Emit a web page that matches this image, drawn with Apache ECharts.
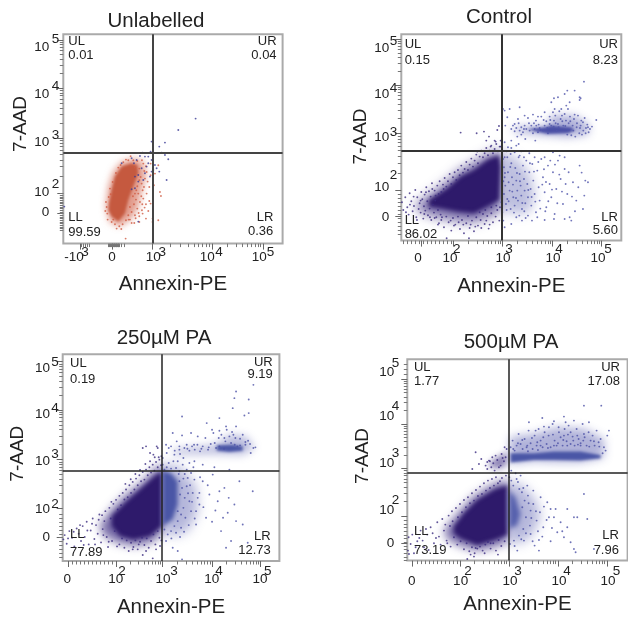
<!DOCTYPE html>
<html><head><meta charset="utf-8">
<style>html,body{margin:0;padding:0;background:#fff}#c{width:628px;height:619px}</style>
<script src="https://cdn.jsdelivr.net/npm/echarts@6/dist/echarts.min.js"></script>
</head><body><div id="c"></div>
<script>
// Values are display channels of each plot's biexponential scale.
const panelTitles=['Unlabelled','Control','250µM PA','500µM PA'];
const quadrantNames=['UL','UR','LL','LR'];
const unlabelledPct=['0.01','0.04','99.59','0.36'];
const controlPct=['0.15','8.23','86.02','5.60'];
const pa250Pct=['0.19','9.19','77.89','12.73'];
const pa500Pct=['1.77','17.08','73.19','7.96'];

// dense population outlines
const unlabelledCore=[[137,121],[145,161],[155,201],[175,231],[205,241],[222,236],[225,211],[210,171],[195,131],[185,91],[165,66],[145,81],[135,101]];
const unlabelledHalo=[[128,110],[135,170],[150,215],[175,245],[215,255],[240,245],[248,205],[235,160],[225,110],[205,75],[170,52],[140,65]];
const controlCore=[[83,122],[138,157],[178,192],[218,212],[258,242],[293,257],[298,222],[294,122],[258,102],[218,82],[168,87],[118,97],[83,102]];
const controlHalo=[[40,105],[90,140],[135,175],[175,210],[220,235],[260,260],[296,275],[300,90],[260,70],[215,55],[165,60],[110,70],[60,85]];
const controlLowHalo=[[304,262],[345,250],[385,200],[400,140],[385,85],[340,80],[304,95]];
const controlUpHalo=[[335,340],[440,345],[450,375],[520,375],[565,345],[560,318],[500,310],[400,318],[340,325]];
const controlBand=[[378,335],[430,340],[450,345],[510,340],[520,330],[500,322],[440,320],[400,328]];
const pa250Core=[[147,135],[192,180],[232,215],[282,260],[297,270],[297,105],[262,75],[212,65],[172,75],[147,105]];
const pa250Halo=[[110,105],[150,160],[190,200],[235,235],[285,285],[298,290],[300,85],[265,55],[215,45],[165,55],[125,75]];
const pa250LowHalo=[[299,290],[350,285],[400,225],[405,150],[375,90],[330,75],[299,90]];
const pa250UpHalo=[[330,335],[460,350],[500,380],[550,375],[575,340],[540,320],[450,322],[335,320]];
const pa250Strip=[[299,272],[325,265],[345,240],[345,170],[330,125],[299,105]];
const pa250Band=[[462,348],[510,350],[540,345],[540,332],[500,328],[462,332]];
const pa500Core=[[140,102],[170,142],[210,182],[260,212],[300,227],[300,77],[260,62],[210,47],[160,67],[140,82]];
const pa500Halo=[[110,90],[150,140],[195,190],[250,225],[298,245],[300,55],[260,40],[210,30],[155,45],[120,65]];
const pa500LowHalo=[[303,240],[345,225],[385,180],[400,130],[370,70],[330,50],[303,60]];
const pa500UpHalo=[[308,370],[380,380],[450,400],[530,395],[590,365],[590,310],[520,295],[440,295],[380,298],[308,290]];
const pa500Cluster=[[240,285],[262,305],[298,325],[298,285],[270,275]];
const pa500Strip=[[305,212],[325,190],[340,140],[330,105],[305,95]];
const pa500Band=[[310,322],[380,322],[440,327],[520,327],[580,317],[580,307],[520,300],[440,302],[380,302],[310,294]];

// individual events
const unlabelledRed=[[200,110],[212,118],[205,95],[222,105],[215,85],[230,125],[236,100],[228,82],[244,108],[240,135],[225,150],[238,160],[215,150],[250,150],[222,172],[235,180],[245,195],[232,200],[250,215],[262,205],[228,225],[240,240],[210,250],[195,250],[180,244],[222,248],[236,250],[248,232],[200,72],[188,70],[178,58],[168,52],[155,58],[145,65],[133,72],[132,90],[130,110],[128,125],[136,140],[140,165],[148,185],[158,212],[165,228],[248,118],[258,128],[268,75],[285,70],[268,65],[160,45],[187,15],[262,120],[290,155],[293,143],[258,170],[272,175],[275,210],[285,235],[262,240],[248,75],[228,65],[205,62],[195,85],[213,62],[218,132],[209,142],[226,92],[237,118],[242,170],[253,186],[228,190],[219,160],[196,72],[174,44],[150,72],[126,98],[142,148],[172,236],[188,252],[202,262],[214,228],[243,218],[234,142],[255,98],[217,76],[238,90]];
const unlabelledBlue=[[3,111],[205,256],[175,241],[238,273],[230,263],[262,276],[265,306],[288,291],[305,303],[295,273],[305,266],[315,253],[345,341],[397,375],[310,191],[288,216],[275,236],[265,216],[280,226],[255,241],[245,211],[250,231],[235,226],[225,206],[215,201],[240,191],[225,186],[215,166],[205,163],[225,66],[265,251],[255,261],[245,261],[220,251],[270,221],[260,201],[212,241]];
const controlDark=[[2,115],[6,92],[12,130],[18,100],[22,78],[25,142],[30,118],[34,88],[38,104],[42,152],[45,70],[48,130],[52,95],[55,112],[58,84],[60,146],[63,124],[66,66],[68,103],[70,138],[72,90],[75,160],[78,118],[80,76],[83,148],[85,96],[88,132],[90,62],[92,172],[95,108],[98,84],[100,150],[103,135],[105,70],[108,165],[110,92],[113,52],[115,178],[118,78],[120,146],[125,168],[130,188],[135,162],[140,178],[145,200],[150,170],[155,190],[160,205],[165,182],[170,212],[175,196],[180,225],[185,204],[190,215],[195,236],[200,212],[205,228],[210,246],[215,222],[220,240],[225,258],[230,232],[235,252],[240,270],[245,250],[250,262],[255,278],[260,256],[265,270],[270,285],[275,262],[280,275],[285,290],[290,268],[295,282],[298,300],[255,300],[280,300],[178,324],[226,322],[248,327],[263,312],[288,332],[293,344],[228,267],[268,282],[283,297],[298,282],[100,68],[110,48],[120,62],[128,40],[135,72],[142,55],[150,30],[155,68],[162,48],[170,72],[176,35],[182,62],[188,22],[195,52],[200,74],[205,38],[212,60],[218,28],[225,70],[230,45],[238,62],[245,80],[250,50],[258,74],[262,36],[270,82],[275,55],[283,72],[288,92],[294,60],[296,100],[285,105],[270,100],[252,92],[235,85],[136,7],[203,7],[14,85],[26,108],[37,132],[47,62],[58,120],[69,80],[74,145],[86,70],[93,155],[102,120],[112,140],[122,70],[127,155],[148,60],[158,45],[172,55],[186,48],[208,48],[222,42],[240,38],[255,60],[265,48]];
const controlBlue=[[305,245],[308,220],[310,190],[312,165],[308,140],[314,110],[318,250],[320,205],[322,175],[325,150],[318,125],[328,95],[330,232],[332,190],[335,168],[336,130],[340,105],[342,218],[345,180],[348,150],[350,120],[352,250],[355,200],[358,165],[360,135],[362,95],[365,225],[368,185],[370,150],[372,112],[375,240],[378,170],[380,130],[384,205],[388,155],[390,105],[393,230],[396,180],[400,140],[404,85],[408,210],[412,160],[415,120],[420,245],[425,190],[430,145],[435,100],[440,225],[445,170],[450,130],[455,205],[460,80],[465,155],[470,240],[478,185],[485,110],[490,215],[498,140],[505,70],[510,60],[515,175],[525,120],[535,225],[545,95],[560,175],[552,180],[490,65],[458,65],[400,250],[430,250],[455,265],[475,255],[490,250],[300,115],[303,85],[306,60],[310,250],[328,260],[340,265],[360,268],[345,285],[320,280],[310,295],[330,300],[355,255],[430,62],[392,60],[380,75],[362,60],[345,70],[330,50],[310,40],[330,335],[335,345],[340,328],[345,338],[350,365],[355,330],[360,340],[365,325],[370,345],[375,335],[380,368],[385,330],[390,345],[395,322],[400,335],[405,345],[410,325],[415,338],[420,372],[425,330],[430,345],[435,358],[440,322],[445,372],[450,345],[455,385],[458,360],[462,375],[466,330],[470,350],[474,388],[478,365],[482,375],[486,345],[490,380],[494,360],[498,318],[502,352],[506,372],[510,316],[514,345],[518,365],[522,312],[526,340],[530,375],[534,322],[538,345],[542,318],[546,330],[550,368],[554,338],[558,348],[562,325],[566,335],[585,362],[305,395],[310,390],[318,370],[325,395],[355,400],[370,375],[395,378],[410,372],[430,385],[450,415],[460,395],[470,430],[490,440],[495,405],[500,395],[520,450],[535,430],[548,477],[535,422],[505,415],[498,450],[458,427],[538,427],[311,203],[306,178],[327,221],[333,147],[347,203],[344,128],[356,178],[363,113],[371,207],[369,88],[381,152],[386,232],[391,131],[398,207],[402,117],[411,236],[417,96],[423,168],[428,214],[434,176],[441,118],[447,240],[452,153],[461,228],[468,112],[474,198],[482,147],[493,170],[502,205],[512,132],[521,88],[531,160],[541,204],[549,135],[322,118],[338,84],[316,92],[354,75],[373,68],[408,70],[432,88],[330,278],[352,290],[316,268],[368,250],[384,262],[402,300],[372,305],[348,312],[352,352],[368,335],[383,352],[404,360],[412,348],[427,362],[438,338],[447,362],[457,342],[463,352],[472,340],[483,358],[492,344],[501,332],[507,358],[516,330],[527,352],[536,338],[545,355],[553,322],[560,340],[572,342],[540,360],[520,378],[480,395],[445,350],[418,332],[398,352],[360,318],[340,350],[312,345]];
const pa250Dark=[[2,65],[6,78],[12,52],[20,90],[28,70],[35,44],[42,98],[48,82],[55,60],[60,105],[66,72],[72,118],[78,50],[84,92],[90,128],[95,66],[100,108],[105,82],[110,140],[115,56],[120,96],[125,120],[128,150],[132,72],[136,42],[140,160],[144,128],[148,60],[152,172],[156,90],[160,184],[165,155],[170,196],[175,168],[180,205],[185,185],[190,215],[195,192],[200,228],[205,205],[210,238],[215,215],[220,248],[225,228],[230,258],[235,240],[240,268],[245,245],[250,275],[255,258],[260,282],[265,266],[270,290],[275,272],[280,298],[285,282],[290,305],[295,288],[296,315],[288,312],[240,340],[250,345],[262,325],[272,320],[285,340],[282,345],[170,50],[178,68],[185,40],[192,62],[198,30],[205,55],[212,42],[218,62],[225,35],[232,58],[238,70],[245,48],[252,68],[258,40],[265,60],[272,80],[278,50],[285,90],[290,70],[296,62],[280,35],[240,18],[270,8],[16,68],[33,88],[52,108],[63,48],[74,92],[88,112],[97,50],[108,124],[118,138],[122,78],[138,58],[146,178],[163,44],[188,232],[204,246],[218,262],[232,274],[248,292],[262,300],[276,312],[210,35],[228,50],[250,30],[292,45]];
const pa250Blue=[[300,290],[305,275],[312,282],[318,295],[325,278],[332,300],[340,280],[350,270],[360,290],[372,275],[385,265],[395,245],[350,240],[358,220],[366,190],[352,200],[362,160],[372,225],[380,180],[390,205],[400,150],[355,140],[345,120],[335,105],[325,90],[315,80],[305,95],[345,150],[368,130],[378,108],[355,100],[340,85],[400,110],[410,170],[420,240],[430,130],[440,200],[450,260],[465,180],[475,90],[485,220],[495,145],[505,60],[515,170],[530,240],[540,110],[555,55],[570,210],[490,40],[405,190],[385,150],[375,250],[310,60],[330,40],[345,30],[358,5],[300,310],[312,325],[325,345],[335,320],[350,335],[362,310],[380,295],[395,300],[345,300],[310,350],[318,340],[330,385],[342,360],[350,345],[358,378],[365,340],[372,350],[380,332],[388,345],[396,335],[404,350],[412,330],[420,345],[428,370],[436,335],[444,352],[452,385],[460,340],[468,370],[476,380],[484,338],[492,395],[500,375],[508,388],[516,350],[524,345],[532,368],[540,380],[548,350],[556,362],[564,325],[572,340],[578,342],[385,385],[405,375],[432,415],[448,395],[470,430],[358,435],[485,370],[520,405],[545,438],[558,445],[520,510],[515,490],[558,486],[572,530],[510,460],[348,262],[362,248],[376,204],[388,178],[396,128],[364,88],[352,72],[326,68],[382,228],[410,205],[422,162],[435,228],[448,118],[458,152],[470,210],[481,130],[498,190],[520,120],[412,252],[392,282],[366,262],[336,332],[352,322],[374,338],[394,350],[416,338],[438,342],[456,355],[470,345],[488,360],[505,355],[518,370],[532,348],[548,358],[562,352],[470,392],[490,405],[512,380],[420,290],[455,282],[500,275]];
const pa500Dark=[[2,30],[4,70],[10,50],[20,22],[30,58],[40,90],[50,40],[60,78],[70,100],[80,52],[90,115],[95,72],[105,125],[110,90],[118,60],[124,135],[128,104],[134,148],[140,70],[146,158],[152,130],[158,170],[164,145],[170,182],[176,160],[182,190],[188,172],[194,202],[200,180],[206,212],[212,194],[218,222],[224,200],[230,232],[236,210],[242,240],[248,218],[254,245],[260,225],[266,250],[272,232],[278,238],[284,248],[296,255],[120,52],[130,42],[150,48],[160,58],[170,34],[178,52],[186,28],[194,40],[202,22],[210,36],[218,42],[226,30],[234,48],[242,56],[250,36],[258,52],[266,30],[274,62],[282,44],[292,58],[180,5],[200,12],[215,290],[235,285],[248,298],[258,292],[270,302],[280,285],[290,298],[295,310],[265,315],[283,320],[298,335],[240,275],[222,305],[195,275],[205,325],[262,270],[275,280],[245,300],[255,310],[5,20],[15,78],[25,40],[36,68],[46,60],[56,95],[64,32],[76,82],[86,68],[100,48],[114,108],[136,118],[190,18],[205,38],[232,22],[250,52],[272,18],[240,296],[252,280],[286,308],[292,340]];
const pa500Blue=[[306,250],[312,240],[318,225],[328,245],[336,215],[344,205],[352,180],[362,195],[370,150],[378,170],[388,120],[398,145],[408,100],[420,175],[430,155],[440,130],[450,85],[460,115],[470,70],[480,100],[490,55],[500,35],[345,160],[356,130],[368,105],[348,95],[335,75],[320,60],[308,50],[350,60],[370,80],[382,45],[395,30],[330,30],[312,270],[325,262],[340,255],[360,225],[378,210],[400,190],[425,130],[480,155],[500,130],[510,130],[530,200],[540,125],[560,35],[505,25],[310,340],[316,360],[322,330],[328,345],[334,380],[340,350],[346,335],[352,365],[358,340],[364,390],[370,352],[376,335],[382,375],[388,345],[394,395],[400,360],[406,340],[412,385],[418,350],[424,375],[430,340],[436,410],[442,360],[448,345],[454,400],[460,370],[466,345],[472,395],[478,358],[484,405],[490,350],[496,372],[502,345],[508,395],[514,365],[520,352],[526,410],[532,370],[538,345],[544,385],[550,360],[556,375],[562,345],[568,390],[574,355],[580,365],[590,340],[600,375],[605,390],[595,330],[530,380],[545,415],[520,345],[480,345],[440,345],[400,345],[360,345],[365,415],[405,428],[530,465],[582,465],[455,385],[475,415],[390,355],[425,400],[470,375],[490,385],[510,375],[332,236],[348,218],[364,172],[386,148],[392,88],[372,128],[356,82],[342,64],[322,44],[376,58],[410,162],[418,122],[434,98],[445,155],[405,72],[395,62],[430,58],[465,88],[318,335],[332,352],[345,362],[362,328],[374,368],[392,332],[408,370],[422,338],[437,378],[452,352],[468,362],[482,378],[498,360],[512,348],[528,360],[546,342],[560,358],[576,342],[586,322],[500,420],[470,432],[440,418],[410,402],[385,390]];

const minors=(a,b)=>[2,3,4,5,6,7,8,9].map(k=>a+(b-a)*Math.log10(k));
const run=(a,b,s)=>{const o=[];for(let v=a;v<=b;v+=s)o.push(v);return o;};

const panels=[
 {box:[63.3,34.3,219.3,209.3],range:[658,628],qx:268,qy:273,lineW:2,lineC:'#444',title:[156,22],name:[42,42,15],pct:unlabelledPct,
  pos:[[15,606,566,'left'],[640,606,566,'right'],[15,79,33,'left'],[630,79,36,'right']],
  xMaj:[50,146,266,446,599],yMaj:[611,467,317,152,92],
  xMin:[...minors(266,446),...minors(446,599),...minors(146,50).slice(3),...minors(266,146).slice(3),...run(135,170,3)],
  yMin:[...minors(152,317),...minors(317,467),...minors(467,611),...run(40,150,5)],
  xL:[[32,'-10'],[146,'0'],[270,'10'],[432,'10'],[588,'10']],xE:[[65,'3'],[297,'3'],[467,'4'],[622,'5']],
  yL:[[93,'0'],[153,'10'],[303,'10'],[447,'10'],[588,'10']],yE:[[177,'2'],[324,'3'],[471,'4'],[612,'5']],
  lm:[6.5,1.7,14,4],
  halo:[[unlabelledHalo,'rgba(207,91,66,.6)',7]],core:[[unlabelledCore,'#c5593f',3]],dots:[[unlabelledRed,'#cf5b42'],[unlabelledBlue,'#3a3a95']]},
 {box:[401.3,34.3,220,206.3],range:[660,619],qx:302,qy:270,lineW:2,lineC:'#333',title:[499,18],name:[47,40,1],pct:controlPct,
  pos:[[10,589,540,'left'],[650,589,540,'right'],[10,60,20,'left'],[650,70,32,'right']],
  xMaj:[61,156,304,454,601],yMaj:[604,467,322,152,72],
  xMin:[...minors(156,304),...minors(304,454),...minors(454,601),...run(5,150,12)],
  yMin:[...minors(152,322),...minors(322,467),...minors(467,604),...run(20,140,12)],
  xL:[[50,'0'],[146,'10'],[305,'10'],[455,'10'],[590,'10']],xE:[[166,'2'],[323,'3'],[473,'4'],[620,'5']],
  yL:[[71,'0'],[161,'10'],[311,'10'],[440,'10'],[578,'10']],yE:[[197,'2'],[326,'3'],[458,'4'],[599,'5']],
  lm:[11,2,12,4],
  halo:[[controlHalo,'rgba(58,42,128,.7)',12],[controlLowHalo,'rgba(90,95,176,.4)',12],[controlUpHalo,'rgba(79,84,170,.45)',8]],core:[[controlCore,'#2e1a6b',4],[controlBand,'#4a4fa5',3]],dots:[[controlDark,'#3a2a80'],[controlBlue,'#4f54aa']]},
 {box:[62.7,354.3,216.7,207.3],range:[650,622],qx:298,qy:272,lineW:1.5,lineC:'#222',title:[164,339],name:[48,46,4],pct:pa250Pct,
  pos:[[22,595,547,'left'],[630,597,562,'right'],[22,80,27,'left'],[624,73,33,'right']],
  xMaj:[16,160,300,448,594],yMaj:[600,455,305,160,70],
  xMin:[...minors(160,300),...minors(300,448),...minors(448,594),...run(30,150,12)],
  yMin:[...minors(160,305),...minors(305,455),...minors(455,600),...run(10,150,12)],
  xL:[[14,'0'],[159,'10'],[301,'10'],[447,'10'],[592,'10']],xE:[[178,'2'],[334,'3'],[469,'4'],[615,'5']],
  yL:[[70,'0'],[155,'10'],[300,'10'],[442,'10'],[580,'10']],yE:[[172,'2'],[320,'3'],[460,'4'],[597,'5']],
  lm:[11.5,3,12.6,4],
  halo:[[pa250Halo,'rgba(58,42,128,.7)',10],[pa250LowHalo,'rgba(90,95,176,.45)',12],[pa250UpHalo,'rgba(79,84,170,.4)',8]],core:[[pa250Core,'#2e1a6b',4],[pa250Strip,'#4a56a6',4],[pa250Band,'#4a56a6',3]],dots:[[pa250Dark,'#3a2a80'],[pa250Blue,'#4a4fa5']]},
 {box:[407.3,359.3,220.3,201.3],range:[661,604],qx:303,qy:264,lineW:1.5,lineC:'#222',title:[511,343],name:[45,46,4],pct:pa500Pct,
  pos:[[20,580,537,'left'],[638,580,537,'right'],[20,87,32,'left'],[635,77,32,'right']],
  xMaj:[16,158,305,452,599],yMaj:[544,410,277,134,52],
  xMin:[...minors(158,305),...minors(305,452),...minors(452,599),...run(30,150,12)],
  yMin:[...minors(134,277),...minors(277,410),...minors(410,544),...run(0,125,11),560,575,590],
  xL:[[13,'0'],[160,'10'],[308,'10'],[455,'10'],[602,'10']],xE:[[182,'2'],[332,'3'],[479,'4'],[628,'5']],
  yL:[[52,'0'],[152,'10'],[292,'10'],[432,'10'],[564,'10']],yE:[[182,'2'],[322,'3'],[464,'4'],[592,'5']],
  lm:[14,3.5,13,8],
  halo:[[pa500Halo,'rgba(58,42,128,.7)',10],[pa500LowHalo,'rgba(90,95,176,.45)',12],[pa500UpHalo,'rgba(79,84,170,.45)',10],[pa500Cluster,'rgba(58,42,128,.6)',6]],core:[[pa500Core,'#2e1a6b',4],[pa500Strip,'#5660ad',5],[pa500Band,'#4a56a6',3]],dots:[[pa500Dark,'#3a2a80'],[pa500Blue,'#4a4fa5']]}
];

const FONT='"Liberation Sans",Arial,sans-serif';
const grid=[],xAxis=[],yAxis=[],series=[],title=[];
const lookup=list=>v=>{const h=list.find(e=>Math.abs(e[0]-v)<.01);return h?h[1]:'';};
panels.forEach((p,i)=>{
  grid.push({left:p.box[0],top:p.box[1],width:p.box[2],height:p.box[3],show:true,borderColor:'#aaa',borderWidth:2,backgroundColor:'#fff'});
  const ax=(dim,max,maj,min,lab,exp,m1,m2,nm)=>{
    const common={type:'value',gridIndex:i,min:0,max,position:dim=='x'?'bottom':'left',axisLine:{show:false},splitLine:{show:false},silent:true,z:3};
    return [
     {...common,name:nm.text,nameLocation:'middle',nameGap:nm.gap,nameTextStyle:nm.style,
      axisTick:{show:true,length:6,customValues:maj,lineStyle:{color:'#666',width:1}},
      axisLabel:{show:true,customValues:lab.map(e=>e[0]),formatter:lookup(lab),margin:m1,color:'#222',fontFamily:FONT,fontSize:13.5,hideOverlap:false}},
     {...common,
      axisTick:{show:true,length:3.5,customValues:min,lineStyle:{color:'#777',width:1}},
      axisLabel:{show:true,customValues:exp.map(e=>e[0]),formatter:lookup(exp),margin:m2,color:'#222',fontFamily:FONT,fontSize:13.5,hideOverlap:false}}
    ];
  };
  xAxis.push(...ax('x',p.range[0],p.xMaj,p.xMin,p.xL,p.xE,p.lm[0],p.lm[1],{text:'Annexin-PE',gap:p.name[0]-12,style:{fontFamily:FONT,fontSize:20.5,color:'#222'}}));
  yAxis.push(...ax('y',p.range[1],p.yMaj,p.yMin,p.yL,p.yE,p.lm[2],p.lm[3],{text:'7-AAD',gap:p.name[1]-11,style:{fontFamily:FONT,fontSize:19,color:'#222',padding:[0,0,0,p.name[2]*2]}}));
  const xi=i*2,yi=i*2;
  // each density region paints only its blurred shadow, so the population fades out softly
  const AWAY=3000;
  const poly=(c,z)=>series.push({type:'custom',coordinateSystem:'cartesian2d',xAxisIndex:xi,yAxisIndex:yi,silent:true,z,clip:true,data:[c[0][0]],
    renderItem:(q,api)=>({type:'polygon',x:-AWAY,shape:{points:c[0].map(t=>api.coord(t))},
      style:{fill:'#000',shadowColor:c[1],shadowBlur:c[2],shadowOffsetX:AWAY}})});
  p.halo.forEach(c=>poly(c,1));
  p.core.forEach(c=>poly(c,2));
  p.dots.forEach(d=>series.push({type:'scatter',xAxisIndex:xi,yAxisIndex:yi,data:d[0],symbol:'circle',symbolSize:1.9,silent:true,z:3,clip:true,large:false,animation:false,itemStyle:{color:d[1]}}));
  series.push({type:'line',xAxisIndex:xi,yAxisIndex:yi,data:[],silent:true,symbol:'none',z:5,
    markLine:{silent:true,symbol:'none',animation:false,label:{show:false},lineStyle:{color:p.lineC,width:p.lineW,type:'solid'},data:[{xAxis:p.qx},{yAxis:p.qy}]}});
  series.push({type:'custom',coordinateSystem:'cartesian2d',xAxisIndex:xi,yAxisIndex:yi,silent:true,z:6,clip:false,
    data:p.pos.map((t,k)=>({value:[0,0],k})),
    renderItem:(q,api)=>{const k=q.dataIndex,t=p.pos[k];
      const mk=(txt,yv)=>{const c=api.coord([t[0],yv]);return {type:'text',x:c[0],y:c[1],style:{text:txt,fill:'#222',font:'13px '+FONT,textAlign:t[3],textVerticalAlign:'middle'}};};
      return {type:'group',children:[mk(quadrantNames[k],t[1]),mk(p.pct[k],t[2])]};}});
  title.push({text:panelTitles[i],left:p.title[0],top:p.title[1]-11,textAlign:'center',padding:0,textStyle:{fontFamily:FONT,fontSize:20.5,fontWeight:'normal',color:'#222'}});
});
const chart=echarts.init(document.getElementById('c'),null,{renderer:'canvas'});
chart.setOption({animation:false,backgroundColor:'#fff',title,grid,xAxis,yAxis,series});
</script></body></html>
